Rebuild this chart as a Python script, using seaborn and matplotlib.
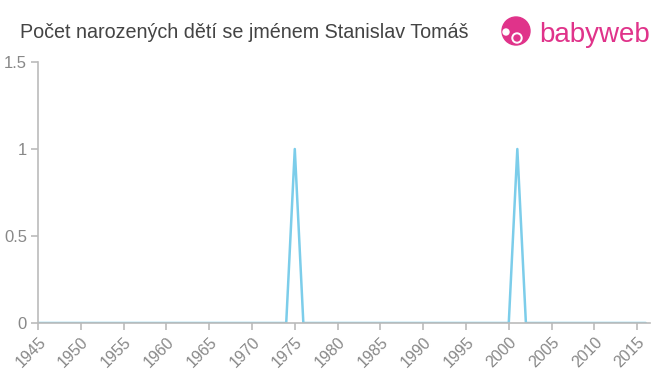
import matplotlib
matplotlib.use("Agg")
import matplotlib.pyplot as plt
import seaborn as sns
import pandas as pd
from matplotlib.patches import Circle

years = list(range(1945, 2017))
counts = [0] * len(years)
peak_years = [1975, 2001]
peak_values = [1, 1]
for y, v in zip(peak_years, peak_values):
    counts[years.index(y)] = v

xticks = list(range(1945, 2016, 5))
yticks = [0, 0.5, 1, 1.5]
ytick_labels = ["0", "0.5", "1", "1.5"]
title = "Počet narozených dětí se jménem Stanislav Tomáš"

df = pd.DataFrame({"rok": years, "pocet": counts})

sns.set_theme(style="white")
plt.rcParams['font.family'] = ['Liberation Sans', 'DejaVu Sans']

fig = plt.figure(figsize=(6.6, 3.75), dpi=100)
ax = fig.add_axes([38/660, 1 - 323/375, (650-38)/660, (323-62)/375])

sns.lineplot(data=df, x="rok", y="pocet", ax=ax, color="#7ccdea", linewidth=1.8)

ax.set_xlim(1945, 2016.5)
ax.set_ylim(0, 1.5)
ax.set_xticks(xticks)
ax.set_xticklabels([str(t) for t in xticks], rotation=45, ha="right", rotation_mode="anchor")
ax.set_yticks(yticks)
ax.set_yticklabels(ytick_labels)
ax.set_xlabel("")
ax.set_ylabel("")
for s in ["top", "right"]:
    ax.spines[s].set_visible(False)
for s in ["left", "bottom"]:
    ax.spines[s].set_color("#bbbbbb")
    ax.spines[s].set_linewidth(1.2)
ax.tick_params(axis="both", bottom=True, left=True, colors="#bbbbbb", length=5, width=1.2, direction="out")
ax.tick_params(axis="x", labelsize=11.5, labelcolor="#888888", pad=3)
ax.tick_params(axis="y", labelsize=12, labelcolor="#888888", pad=3)
ax.grid(False)

fig.text(20/660, 1 - 32/375, title, fontsize=14.2, color="#444444", va="center", ha="left")

# logo
pink = "#e0338a"
lax = fig.add_axes([498/660, 1 - 50/375, 36/660, 36/375])
lax.set_xlim(0, 36)
lax.set_ylim(0, 36)
lax.set_aspect("equal")
lax.axis("off")
lax.add_patch(Circle((18, 19), 14, color=pink))
lax.add_patch(Circle((19, 12), 5, color="white"))
lax.add_patch(Circle((19, 12), 3, color=pink))
lax.add_patch(Circle((8, 18), 3, color="white"))
fig.text(539/660, 1 - 35/375, "babyweb", fontsize=20, color=pink, va="center", ha="left")

fig.savefig("out.png", dpi=100)
